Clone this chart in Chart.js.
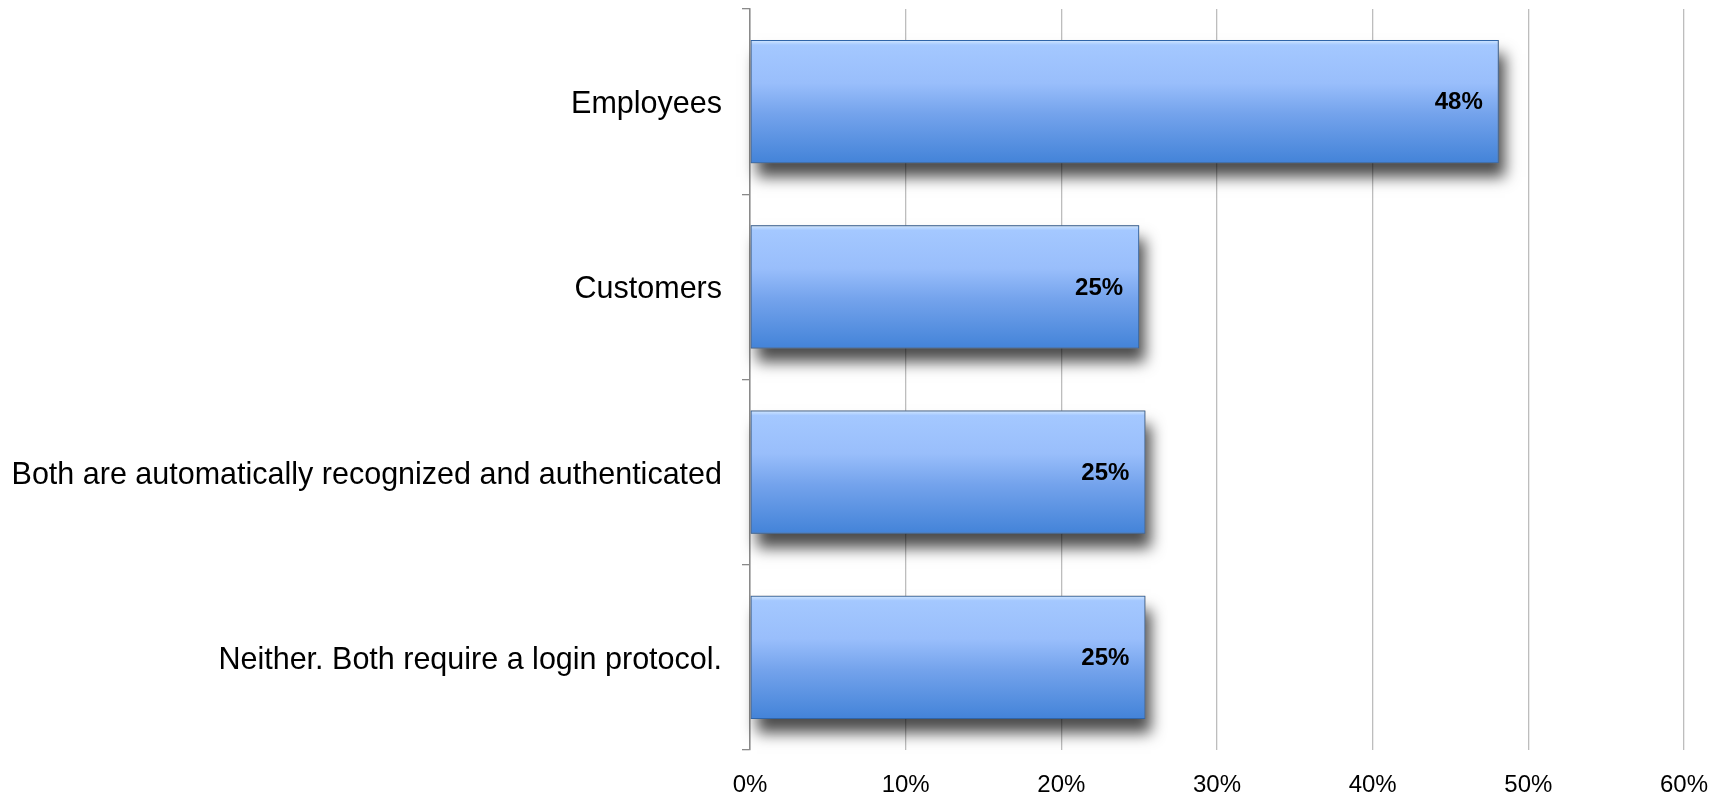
<!DOCTYPE html>
<html>
<head>
<meta charset="utf-8">
<script src="https://cdn.jsdelivr.net/npm/chart.js@4"></script>
<style>
    html, body { margin: 0; padding: 0; background: #fff; }
    #wrap { width: 1729px; height: 795px; }
</style>
</head>
<body>
<div id="wrap"><canvas id="barChart" width="1729" height="795"></canvas></div>
<script>
const categories = [
    "Employees",
    "Customers",
    "Both are automatically recognized and authenticated",
    "Neither. Both require a login protocol.",
];
const shares = [48.1, 25.0, 25.4, 25.4];
const xTicks = [0, 10, 20, 30, 40, 50, 60];

const pct = (v) => `${Math.round(v)}%`;

// vertical gradient for each bar, built from the bar's band on the y scale
const barFill = (ctx) => {
    const chart = ctx.chart;
    const ys = chart.scales.y;
    if (!ys || !chart.chartArea) return "#7aa8ee";
    const c = ys.getPixelForValue(ctx.dataIndex);
    const half = (ys.height / categories.length) * 0.665 / 2;
    const g = chart.ctx.createLinearGradient(0, c - half, 0, c + half);
    g.addColorStop(0, "#d4e9ff");
    g.addColorStop(0.04, "#a4c8ff");
    g.addColorStop(0.35, "#99befb");
    g.addColorStop(0.6, "#74a3ec");
    g.addColorStop(1, "#4383d8");
    return g;
};

// the bar element clips itself, so paint the drop shadow first under each bar
const barShadow = {
    id: "barShadow",
    beforeDatasetsDraw(chart) {
        const c = chart.ctx;
        c.save();
        c.shadowColor = "rgba(0, 0, 0, 0.7)";
        c.shadowBlur = 14;
        c.shadowOffsetX = 6;
        c.shadowOffsetY = 14;
        c.fillStyle = "#777";
        chart.getDatasetMeta(0).data.forEach((bar) => {
            const top = bar.y - bar.height / 2;
            c.fillRect(bar.base, top, bar.x - bar.base, bar.height);
        });
        c.restore();
    },
};

const valueLabels = {
    id: "valueLabels",
    afterDatasetsDraw(chart) {
        const c = chart.ctx;
        c.save();
        c.font = "bold 24px 'Liberation Sans', Arial, sans-serif";
        c.fillStyle = "#000";
        c.textAlign = "right";
        c.textBaseline = "middle";
        chart.getDatasetMeta(0).data.forEach((bar, i) => {
            c.fillText(pct(shares[i]), bar.x - 16, bar.y + 1);
        });
        c.restore();
    },
};

var barChart_ctx = document.getElementById("barChart").getContext("2d");
var barChart = new Chart(barChart_ctx, {
    type: "bar",
    data: {
        labels: categories,
        datasets: [
            {
                data: shares,
                backgroundColor: barFill,
                borderColor: "#3065a8",
                borderWidth: 1,
                borderSkipped: false,
                barPercentage: 0.665,
                categoryPercentage: 1,
            },
        ],
    },
    options: {
        indexAxis: "y",
        responsive: false,
        animation: false,
        layout: { padding: { top: 9, right: 18, left: 0, bottom: 0 } },
        plugins: {
            legend: { display: false },
            tooltip: { enabled: false },
        },
        scales: {
            x: {
                min: 0,
                max: 60,
                afterBuildTicks: (s) => {
                    s.ticks = xTicks.map((v) => ({ value: v }));
                },
                afterFit: (s) => {
                    s.height = 45;
                },
                grid: {
                    color: "#bdbdbd",
                    lineWidth: 1.3,
                    drawTicks: false,
                },
                border: { display: false },
                ticks: {
                    padding: 21,
                    color: "#000",
                    font: { family: "'Liberation Sans', Arial, sans-serif", size: 24 },
                    callback: (v) => `${v}%`,
                },
            },
            y: {
                afterFit: (s) => {
                    s.width = 750;
                    s.paddingTop = 0;
                    s.paddingBottom = 0;
                },
                grid: {
                    offset: true,
                    drawOnChartArea: false,
                    drawTicks: true,
                    tickLength: 8,
                    color: "#8a8a8a",
                    lineWidth: 1.3,
                },
                border: { display: true, color: "#8a8a8a", width: 1.5 },
                ticks: {
                    padding: 20,
                    labelOffset: 3,
                    color: "#000",
                    font: { family: "'Liberation Sans', Arial, sans-serif", size: 30.5 },
                },
            },
        },
    },
    plugins: [barShadow, valueLabels],
});
</script>
</body>
</html>
